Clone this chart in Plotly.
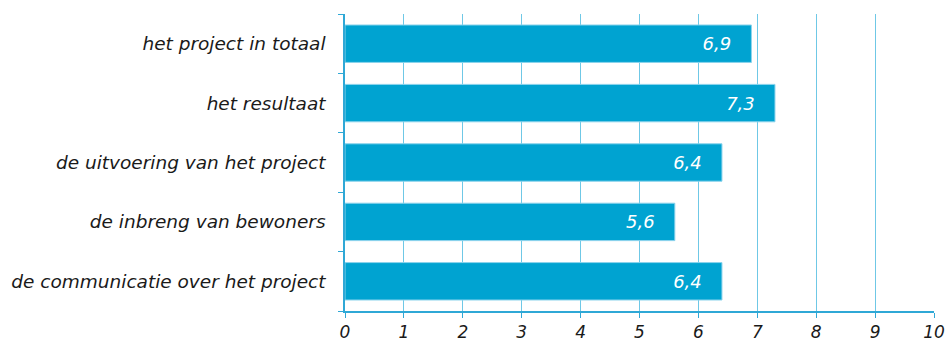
import plotly.graph_objects as go

# Ratings per aspect (scale 0-10)
categories = [
    "het project in totaal",
    "het resultaat",
    "de uitvoering van het project",
    "de inbreng van bewoners",
    "de communicatie over het project",
]
scores = [6.9, 7.3, 6.4, 5.6, 6.4]
x_ticks = list(range(0, 11))

BAR = "#00A3D1"
GRID = "#6FC8E6"
AXIS = "#2FA8D6"
FONT = "DejaVu Sans, Verdana, sans-serif"

fig = go.Figure(
    go.Bar(
        y=categories,
        x=scores,
        orientation="h",
        marker=dict(color=BAR, line=dict(color="#8BD3EC", width=1)),
        texttemplate="<i>%{x:.1f}</i>   ",
        textposition="inside",
        insidetextanchor="end",
        textfont=dict(family=FONT, size=18, color="white"),
        cliponaxis=False,
        hoverinfo="skip",
    )
)

fig.update_layout(
    width=950,
    height=342,
    margin=dict(l=345, r=16, t=14, b=31, autoexpand=False),
    paper_bgcolor="white",
    plot_bgcolor="white",
    separators=",.",
    bargap=0.37,
    showlegend=False,
    font=dict(family=FONT, size=18, color="#1a1a1a"),
)

fig.update_xaxes(
    range=[0, 10],
    tickvals=x_ticks,
    ticktext=[f"<i>{v}</i>" for v in x_ticks],
    showgrid=True,
    gridcolor=GRID,
    gridwidth=1,
    zeroline=False,
    showline=True,
    linecolor=AXIS,
    linewidth=1.5,
    ticks="outside",
    ticklen=5,
    tickcolor=AXIS,
    ticklabelstandoff=0,
    tickfont=dict(family=FONT, size=17, color="#1a1a1a"),
    automargin=False,
    fixedrange=True,
)

fig.update_yaxes(
    categoryorder="array",
    categoryarray=categories,
    autorange="reversed",
    ticktext=[f"<i>{c}</i>" for c in categories],
    tickvals=categories,
    tickson="boundaries",
    ticks="outside",
    ticklen=5,
    tickcolor=AXIS,
    showline=True,
    linecolor=AXIS,
    linewidth=1.5,
    showgrid=False,
    ticklabelstandoff=14,
    tickfont=dict(family=FONT, size=18.5, color="#1a1a1a"),
    automargin=False,
    fixedrange=True,
)

fig.write_html("out.html")
